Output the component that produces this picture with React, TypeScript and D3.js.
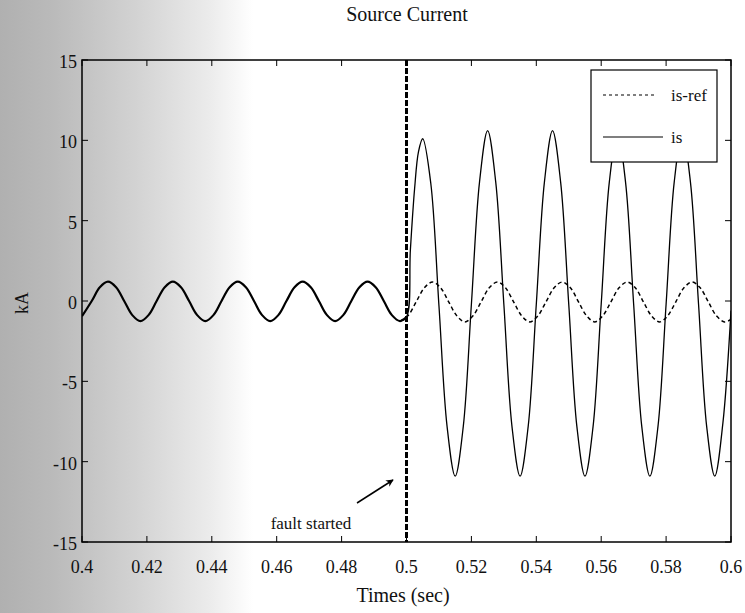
import React from "react";
import * as d3 from "d3";

// ---------- data ----------
const refTime = [
  0.400, 0.403, 0.4055, 0.408, 0.4105, 0.413, 0.4155, 0.418, 0.4205, 0.423,
  0.4255, 0.428, 0.4305, 0.433, 0.4355, 0.438, 0.4405, 0.443, 0.4455, 0.448,
  0.4505, 0.453, 0.4555, 0.458, 0.4605, 0.463, 0.4655, 0.468, 0.4705, 0.473,
  0.4755, 0.478, 0.4805, 0.483, 0.4855, 0.488, 0.4905, 0.493, 0.4955, 0.498,
  0.5005, 0.503, 0.5055, 0.508, 0.5105, 0.513, 0.5155, 0.518, 0.5205, 0.523,
  0.5255, 0.528, 0.5305, 0.533, 0.5355, 0.538, 0.5405, 0.543, 0.5455, 0.548,
  0.5505, 0.553, 0.5555, 0.558, 0.5605, 0.563, 0.5655, 0.568, 0.5705, 0.573,
  0.5755, 0.578, 0.5805, 0.583, 0.5855, 0.588, 0.5905, 0.593, 0.5955, 0.598,
  0.600,
];
const refValue = [
  -0.95, 0.0, 0.85, 1.2, 0.86, 0.0, -0.88, -1.25, -0.88, 0.0,
  0.85, 1.2, 0.85, 0.0, -0.88, -1.25, -0.88, 0.0, 0.85, 1.2,
  0.85, 0.0, -0.88, -1.25, -0.88, 0.0, 0.85, 1.2, 0.85, 0.0,
  -0.88, -1.25, -0.88, 0.0, 0.85, 1.2, 0.85, 0.0, -0.88, -1.25,
  -0.9, -0.05, 0.82, 1.18, 0.82, -0.05, -0.92, -1.3, -0.92, -0.05,
  0.82, 1.18, 0.82, -0.05, -0.92, -1.3, -0.92, -0.05, 0.82, 1.18,
  0.82, -0.05, -0.92, -1.3, -0.92, -0.05, 0.82, 1.18, 0.82, -0.05,
  -0.92, -1.3, -0.92, -0.05, 0.82, 1.18, 0.82, -0.05, -0.92, -1.3,
  -1.15,
];

const isTime = [
  0.400, 0.403, 0.4055, 0.408, 0.4105, 0.413, 0.4155, 0.418, 0.4205, 0.423,
  0.4255, 0.428, 0.4305, 0.433, 0.4355, 0.438, 0.4405, 0.443, 0.4455, 0.448,
  0.4505, 0.453, 0.4555, 0.458, 0.4605, 0.463, 0.4655, 0.468, 0.4705, 0.473,
  0.4755, 0.478, 0.4805, 0.483, 0.4855, 0.488, 0.4905, 0.493, 0.4955, 0.498,
  0.500, 0.5012, 0.5025, 0.5037, 0.505, 0.5075, 0.510, 0.5125, 0.515, 0.5175,
  0.520, 0.5225, 0.525, 0.5275, 0.530, 0.5325, 0.535, 0.5375, 0.540, 0.5425,
  0.545, 0.5475, 0.550, 0.5525, 0.555, 0.5575, 0.560, 0.5625, 0.565, 0.5675,
  0.570, 0.5725, 0.575, 0.5775, 0.580, 0.5825, 0.585, 0.5875, 0.590, 0.5925,
  0.595, 0.5975, 0.600,
];
const isValue = [
  -0.95, 0.0, 0.85, 1.2, 0.86, 0.0, -0.88, -1.25, -0.88, 0.0,
  0.85, 1.2, 0.85, 0.0, -0.88, -1.25, -0.88, 0.0, 0.85, 1.2,
  0.85, 0.0, -0.88, -1.25, -0.88, 0.0, 0.85, 1.2, 0.85, 0.0,
  -0.88, -1.25, -0.88, 0.0, 0.85, 1.2, 0.85, 0.0, -0.88, -1.25,
  -1.0, 3.2, 7.0, 9.3, 10.1, 7.3, -0.3, -7.8, -10.9, -7.8,
  -0.2, 7.4, 10.6, 7.4, -0.2, -7.8, -10.9, -7.8, -0.2, 7.4,
  10.6, 7.4, -0.2, -7.8, -10.9, -7.8, -0.2, 7.4, 10.5, 7.4,
  -0.2, -7.8, -10.9, -7.8, -0.2, 7.4, 10.5, 7.4, -0.2, -7.8,
  -10.9, -7.6, -0.6,
];

const xTicks = [0.4, 0.42, 0.44, 0.46, 0.48, 0.5, 0.52, 0.54, 0.56, 0.58, 0.6];
const xTickLabels = ["0.4", "0.42", "0.44", "0.46", "0.48", "0.5", "0.52", "0.54", "0.56", "0.58", "0.6"];
const yTicks = [-15, -10, -5, 0, 5, 10, 15];
const yTickLabels = ["-15", "-10", "-5", "0", "5", "10", "15"];
const faultTime = [0.5];
const seriesNames = ["is-ref", "is"];
const titleText = "Source Current";
const xLabelText = "Times (sec)";
const yLabelText = "kA";
const annotationText = "fault started";

// ---------- layout ----------
const W = 745;
const H = 613;
const L = 82;
const R = 731;
const T = 60;
const B = 542;
const FONT = "'Liberation Serif', 'Times New Roman', serif";

export default function App() {
  const x = d3.scaleLinear().domain([0.4, 0.6]).range([L, R]);
  const y = d3.scaleLinear().domain([-15, 15]).range([B, T]);

  const line = d3
    .line<[number, number]>()
    .x((d) => x(d[0]))
    .y((d) => y(d[1]))
    .curve(d3.curveCatmullRom.alpha(0.5));

  const refPts: [number, number][] = refTime.map((t, i) => [t, refValue[i]]);
  const isPts: [number, number][] = isTime.map((t, i) => [t, isValue[i]]);
  const fault = faultTime[0];
  const isPre = isPts.filter((d) => d[0] <= fault);
  const isPost = isPts.filter((d) => d[0] >= fault - 0.0021);
  const refPost = refPts.filter((d) => d[0] >= fault - 0.0021);

  const tickLen = 6;
  const fx = x(fault);

  return (
    <svg
      width={W}
      height={H}
      style={{ position: "absolute", left: 0, top: 0, display: "block" }}
      fontFamily={FONT}
    >
      <defs>
        <linearGradient id="scan" x1="0" y1="0" x2="1" y2="0">
          <stop offset="0" stopColor="#b0b0b0" />
          <stop offset="0.07" stopColor="#bababa" />
          <stop offset="0.18" stopColor="#d2d2d2" />
          <stop offset="0.28" stopColor="#ebebeb" />
          <stop offset="0.34" stopColor="#ffffff" />
          <stop offset="1" stopColor="#ffffff" />
        </linearGradient>
        <clipPath id="plot">
          <rect x={L} y={T} width={R - L} height={B - T} />
        </clipPath>
        <marker
          id="arrow"
          viewBox="0 0 10 10"
          refX="9"
          refY="5"
          markerWidth="5"
          markerHeight="5"
          orient="auto"
        >
          <path d="M0,0 L10,5 L0,10 L3,5 Z" fill="#000" />
        </marker>
      </defs>
      <rect x={0} y={0} width={W} height={H} fill="url(#scan)" />

      {/* title */}
      <text x={407} y={21} textAnchor="middle" fontSize={20} fill="#111">
        {titleText}
      </text>

      {/* series */}
      <g clipPath="url(#plot)">
        <path d={line(isPre) || ""} fill="none" stroke="#000" strokeWidth={2.2} />
        <path d={line(isPost) || ""} fill="none" stroke="#000" strokeWidth={1.3} />
        <path
          d={line(refPost) || ""}
          fill="none"
          stroke="#000"
          strokeWidth={1.5}
          strokeDasharray="4,3"
        />
      </g>

      {/* fault line */}
      <line
        x1={fx}
        x2={fx}
        y1={T}
        y2={B}
        stroke="#000"
        strokeWidth={3}
        strokeDasharray="6,2"
      />

      {/* axes box */}
      <rect x={L} y={T} width={R - L} height={B - T} fill="none" stroke="#000" strokeWidth={1.5} />

      {/* x ticks */}
      {xTicks.map((t, i) => (
        <g key={"xt" + i}>
          <line x1={x(t)} x2={x(t)} y1={B} y2={B - tickLen} stroke="#000" strokeWidth={1} />
          <line x1={x(t)} x2={x(t)} y1={T} y2={T + tickLen} stroke="#000" strokeWidth={1} />
          <text x={x(t)} y={573} textAnchor="middle" fontSize={18} fill="#111">
            {xTickLabels[i]}
          </text>
        </g>
      ))}

      {/* y ticks */}
      {yTicks.map((v, i) => (
        <g key={"yt" + i}>
          <line x1={L} x2={L + tickLen} y1={y(v)} y2={y(v)} stroke="#000" strokeWidth={1} />
          <line x1={R} x2={R - tickLen} y1={y(v)} y2={y(v)} stroke="#000" strokeWidth={1} />
          <text x={77} y={y(v) + 8} textAnchor="end" fontSize={18} fill="#111">
            {yTickLabels[i]}
          </text>
        </g>
      ))}

      {/* axis labels */}
      <text x={403} y={602} textAnchor="middle" fontSize={20} fill="#111">
        {xLabelText}
      </text>
      <text
        transform={`translate(28, ${y(0) + 2}) rotate(-90)`}
        textAnchor="middle"
        fontSize={18}
        fill="#111"
      >
        {yLabelText}
      </text>

      {/* annotation */}
      <text x={311} y={529} textAnchor="middle" fontSize={17} fill="#111">
        {annotationText}
      </text>
      <line
        x1={357}
        y1={503}
        x2={393}
        y2={480}
        stroke="#000"
        strokeWidth={1.5}
        markerEnd="url(#arrow)"
      />

      {/* legend */}
      <g>
        <rect x={591} y={70} width={126} height={92} fill="#fff" stroke="#000" strokeWidth={1.2} />
        <line x1={603} x2={655} y1={95} y2={95} stroke="#000" strokeWidth={1.2} strokeDasharray="3,3" />
        <text x={671} y={101} fontSize={17} fill="#111">
          {seriesNames[0]}
        </text>
        <line x1={603} x2={663} y1={137} y2={137} stroke="#000" strokeWidth={1.2} />
        <text x={671} y={143} fontSize={17} fill="#111">
          {seriesNames[1]}
        </text>
      </g>
    </svg>
  );
}
